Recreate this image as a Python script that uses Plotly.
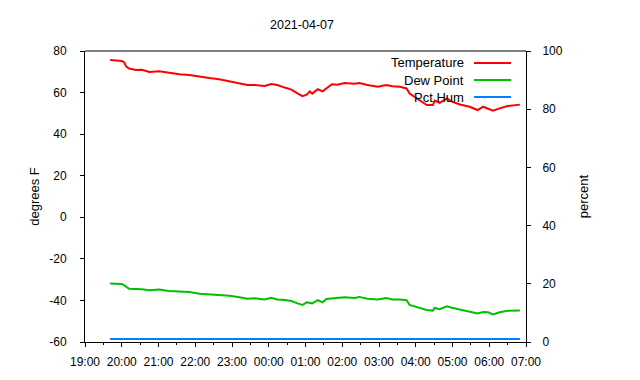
import pandas as pd
import plotly.graph_objects as go

# ---- data ----
times = ["19:41", "20:00", "20:04", "20:07", "20:12", "20:23", "20:33", "20:45",
         "21:01", "21:17", "21:34", "21:50", "22:07", "22:23", "22:39", "22:56",
         "23:12", "23:25", "23:37", "23:53", "00:04", "00:14", "00:26", "00:37",
         "00:47", "00:55", "01:02", "01:07", "01:11", "01:20", "01:28", "01:34",
         "01:43", "01:52", "02:04", "02:20", "02:28", "02:41", "02:58", "03:12",
         "03:22", "03:34", "03:45", "03:50", "04:02", "04:06", "04:18", "04:28",
         "04:31", "04:39", "04:51", "04:59", "05:12", "05:28", "05:41", "05:50",
         "05:58", "06:06", "06:17", "06:30", "06:50"]

temperature = [75.7, 75.2, 74.5, 72.6, 71.6, 70.9, 71.0, 69.9,
               70.2, 69.4, 68.8, 68.5, 67.6, 67.0, 66.4, 65.4,
               64.3, 63.6, 63.6, 63.2, 64.1, 63.6, 62.4, 61.4,
               59.6, 58.3, 59.0, 60.6, 59.5, 61.6, 60.6, 61.9,
               64.0, 63.8, 64.6, 64.3, 64.6, 63.6, 62.8, 63.6,
               63.0, 62.8, 62.0, 59.5, 57.2, 56.1, 54.0, 54.0,
               56.1, 55.1, 57.2, 55.6, 54.3, 53.2, 51.6, 53.2,
               52.4, 51.3, 52.4, 53.5, 54.2]

dew_point = [-31.8, -32.1, -32.8, -33.4, -34.4, -34.5, -34.6, -35.1,
             -34.8, -35.5, -35.8, -35.9, -36.8, -37.0, -37.5, -37.7,
             -38.5, -39.2, -39.0, -39.5, -38.7, -39.5, -39.8, -40.3,
             -41.4, -42.2, -40.9, -41.2, -41.4, -39.9, -40.9, -39.3,
             -39.0, -39.0, -38.5, -38.8, -38.3, -39.2, -39.5, -38.8,
             -39.5, -39.6, -39.9, -42.2, -43.3, -43.7, -44.6, -44.9,
             -43.6, -44.2, -42.8, -43.5, -44.3, -45.3, -46.3, -45.6,
             -45.7, -46.7, -45.7, -45.0, -44.9]

pct_hum = [1.0] * len(times)

names = ["Temperature", "Dew Point", "Pct Hum"]
colors = ["#ff0000", "#00c000", "#0080ff"]

y_ticks = [-60, -40, -20, 0, 20, 40, 60, 80]
y_tick_labels = [str(v) for v in y_ticks]   # ASCII hyphen like gnuplot
y2_ticks = [0, 20, 40, 60, 80, 100]

x_start = "2021-04-06 19:00"
x_end = "2021-04-07 07:00"
title_text = "2021-04-07"

# ---- build datetimes (evening on day 1, morning on day 2) ----
dts = []
for t in times:
    h = int(t.split(":")[0])
    day = "2021-04-06" if h >= 12 else "2021-04-07"
    dts.append(pd.Timestamp(f"{day} {t}"))

FONT = "Liberation Sans, Arial, sans-serif"

# page body has an 8px margin; size the figure to fill the rest of the window
OFF = 8
W, H = 640 - OFF, 380 - OFF
L, R, T, B = 85 - OFF, 640 - 526, 51 - OFF, 380 - 342

fig = go.Figure()
fig.add_trace(go.Scatter(x=dts, y=temperature, name=names[0], mode="lines",
                         line=dict(color=colors[0], width=2), yaxis="y"))
fig.add_trace(go.Scatter(x=dts, y=dew_point, name=names[1], mode="lines",
                         line=dict(color=colors[1], width=2), yaxis="y"))
fig.add_trace(go.Scatter(x=dts, y=pct_hum, name=names[2], mode="lines",
                         line=dict(color=colors[2], width=2), yaxis="y2"))


def axis_common(ticklen=4):
    return dict(showgrid=False, zeroline=False, showline=True, linecolor="black",
                linewidth=1, ticks="outside", tickcolor="black", ticklen=ticklen,
                tickfont=dict(family=FONT, size=12, color="black"))


fig.update_layout(
    width=W, height=H,
    margin=dict(l=L, r=R, t=T, b=B),
    paper_bgcolor="white", plot_bgcolor="white",
    showlegend=False,
    font=dict(family=FONT, size=12, color="black"),
    title=dict(text=title_text, x=(302 - OFF) / W, xanchor="center",
               y=1 - (25 - OFF) / H, yanchor="middle",
               font=dict(family=FONT, size=12.5, color="black")),
    xaxis=dict(**axis_common(4), type="date", range=[x_start, x_end],
               dtick=3600000, tickformat="%H:%M", ticklabelstandoff=5,
               minor=dict(ticks="outside", dtick=1800000, ticklen=2, tickcolor="black")),
    yaxis=dict(**axis_common(4), range=[-60, 80], tickmode="array",
               tickvals=y_ticks, ticktext=y_tick_labels, ticklabelstandoff=11,
               title=dict(text="degrees F", standoff=6,
                          font=dict(family=FONT, size=13, color="black"))),
    yaxis2=dict(**axis_common(4), range=[0, 100], tickmode="array", tickvals=y2_ticks,
                overlaying="y", side="right", ticklabelstandoff=9,
                title=dict(text="percent", standoff=17,
                           font=dict(family=FONT, size=13, color="black"))),
)

# top border of the plot box
fig.add_shape(type="line", xref="paper", yref="paper", x0=0, x1=1, y0=1, y1=1,
              line=dict(color="black", width=1))

# gnuplot-style legend: text right-aligned, line sample on the right
plot_w, plot_h = W - L - R, H - T - B
text_right = (466 - 85) / plot_w
line_x0 = (474 - 85) / plot_w
line_x1 = (511 - 85) / plot_w
row0 = 63
row_gap = 17
for i, (nm, col) in enumerate(zip(names, colors)):
    ypx = row0 + i * row_gap
    yp = 1 - (ypx - 51) / plot_h
    fig.add_annotation(x=text_right, y=yp, xref="paper", yref="paper", text=nm,
                       showarrow=False, xanchor="right", yanchor="middle",
                       font=dict(family=FONT, size=13, color="black"))
    fig.add_shape(type="line", xref="paper", yref="paper", x0=line_x0, x1=line_x1,
                  y0=yp, y1=yp, line=dict(color=col, width=2))

fig.write_html("out.html")
